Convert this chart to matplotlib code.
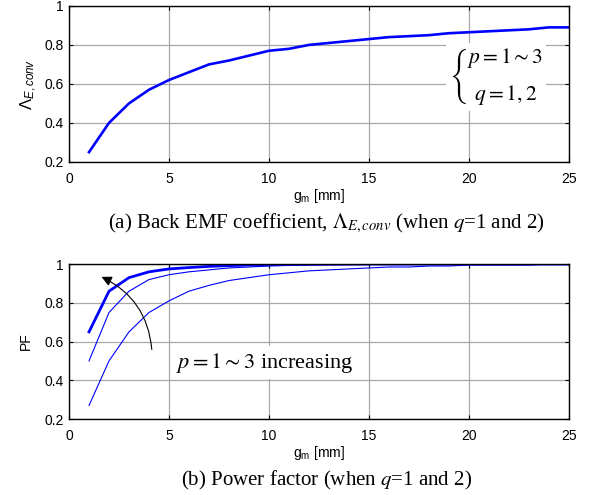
import numpy as np
import matplotlib
matplotlib.use("Agg")
import matplotlib.pyplot as plt

plt.rcParams['font.family'] = ['Liberation Sans', 'DejaVu Sans']
plt.rcParams['mathtext.fontset'] = 'custom'
plt.rcParams['mathtext.rm'] = 'Liberation Sans'
plt.rcParams['mathtext.it'] = 'Liberation Sans:italic'

# data
gm = np.arange(1, 26)
lam_e = [0.25, 0.40, 0.50, 0.57, 0.62, 0.66, 0.70, 0.72, 0.745, 0.77,
         0.78, 0.80, 0.81, 0.82, 0.83, 0.84, 0.845, 0.85, 0.86, 0.865,
         0.87, 0.875, 0.88, 0.89, 0.89]
pf_p1 = [0.27, 0.50, 0.65, 0.75, 0.81, 0.86, 0.89, 0.915, 0.93, 0.945,
         0.955, 0.965, 0.97, 0.975, 0.98, 0.985, 0.985, 0.99, 0.99, 0.995,
         0.995, 0.995, 0.995, 1.0, 1.0]
pf_p2 = [0.50, 0.75, 0.86, 0.92, 0.945, 0.96, 0.97, 0.98, 0.985, 0.99,
         0.993, 0.995, 0.996, 0.997, 0.998, 0.999, 1.0, 1.0, 1.0, 1.0,
         1.0, 1.0, 1.0, 1.0, 1.0]
pf_p3 = [0.65, 0.86, 0.93, 0.96, 0.975, 0.982, 0.988, 0.992, 0.995, 0.997,
         0.998, 0.999, 1.0, 1.0, 1.0, 1.0, 1.0, 1.0, 1.0, 1.0,
         1.0, 1.0, 1.0, 1.0, 1.0]

xticks = [0, 5, 10, 15, 20, 25]
yticks = [0.2, 0.4, 0.6, 0.8, 1.0]
ytick_labels = ['0.2', '0.4', '0.6', '0.8', '1']

fig = plt.figure(figsize=(5.9, 4.95), dpi=100)
ax1 = fig.add_axes([0.117, 0.673, 0.847, 0.315])
ax2 = fig.add_axes([0.117, 0.1535, 0.847, 0.313])

serif = ['Liberation Serif', 'DejaVu Serif']

def style(ax):
    ax.set_xlim(0, 25)
    ax.set_ylim(0.2, 1.0)
    ax.set_xticks(xticks)
    ax.set_yticks(yticks)
    ax.set_yticklabels(ytick_labels)
    ax.grid(True, color='#a8a8a8', lw=0.9)
    ax.tick_params(direction='in', length=3, width=0.8, top=True, right=True,
                   labelsize=10, pad=4)
    ax.tick_params(axis='x', pad=7)
    for s in ax.spines.values():
        s.set_linewidth(1.0)
    ax.set_xlabel('g$_\\mathrm{m}$ [mm]', fontsize=10, labelpad=1)

style(ax1)
ax1.plot(gm, lam_e, color='#0000ff', lw=1.9)
ax1.set_ylabel(r'$\mathit{\Lambda}_{E,conv}$', fontsize=12, labelpad=4)
brace = (r'$\genfrac{\{}{}{0}{0}{\genfrac{}{}{0}{0}{p = 1 \sim 3}{\,}}'
         r'{\genfrac{}{}{0}{0}{\,}{q = 1, 2}}$')
ax1.text(21.35, 0.635, brace, fontsize=15.5,
         family=serif, math_fontfamily='stix', ha='center', va='center',
         bbox=dict(boxstyle='square,pad=0.15', fc='white', ec='none'))

style(ax2)
ax2.plot(gm, pf_p1, color='#0000ff', lw=0.8)
ax2.plot(gm, pf_p2, color='#0000ff', lw=0.8)
ax2.plot(gm, pf_p3, color='#0000ff', lw=2.0)
ax2.set_ylabel('PF', fontsize=10, labelpad=8)
ax2.text(9.8, 0.49, r'$p = 1 \sim 3$ increasing', fontsize=16, family=serif,
         math_fontfamily='stix', ha='center', va='center',
         bbox=dict(boxstyle='square,pad=0.2', fc='white', ec='none'))
ax2.annotate('', xy=(1.5, 0.94), xytext=(4.15, 0.545),
             arrowprops=dict(arrowstyle='-|>', color='black', lw=0.8,
                             connectionstyle='arc3,rad=0.3', mutation_scale=15))

fig.text(0.554, 1 - 223 / 495, r'(a) Back EMF coefficient, $\Lambda_{E,conv}$ (when $q$=1 and 2)',
         fontsize=15, family=serif, math_fontfamily='stix', ha='center', va='center')
fig.text(0.554, 1 - 480 / 495, r'(b) Power factor (when $q$=1 and 2)',
         fontsize=15, family=serif, math_fontfamily='stix', ha='center', va='center')

fig.savefig('out.png', dpi=100)
